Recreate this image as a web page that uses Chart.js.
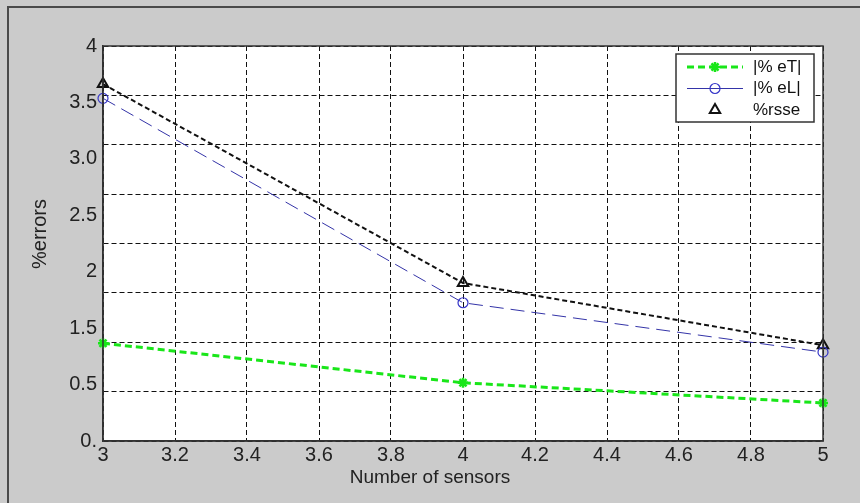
<!DOCTYPE html>
<html lang="en">
<head>
  <meta charset="UTF-8">
  <title>%errors vs Number of sensors</title>
  <script src="https://cdn.jsdelivr.net/npm/chart.js"></script>
  <style>
    body { margin: 0; background: #cbcbcb; }
    canvas { display: block; }
  </style>
</head>
<body>
  <canvas id="err-chart" width="860" height="503"></canvas>

  <script>
// Data
const sensors = [3, 4, 5];
const eT = [0.99, 0.59, 0.385];
const eL = [3.47, 1.40, 0.90];
const rsse = [3.615, 1.60, 0.97];

const seriesNames = ['|% eT|', '|% eL|', '%rsse'];
const xTitle = 'Number of sensors';
const yTitle = '%errors';

// Axis ticks
const xTicks = [3, 3.2, 3.4, 3.6, 3.8, 4, 4.2, 4.4, 4.6, 4.8, 5];
const yGrid = [0, 0.5, 1, 1.5, 2, 2.5, 3, 3.5, 4];
const yLabels = ['0.', '0.5', '1.5', '2', '2.5', '3.0', '3.5', '4'];

const font = "Arial, 'Liberation Sans', sans-serif";

function points(values) {
  return sensors.map((s, i) => ({ x: s, y: values[i] }));
}

// Gray figure background, outer frame, white axes box and axis titles
const framePlugin = {
  id: 'frame',
  beforeDraw(chart) {
    const ctx = chart.ctx;
    const a = chart.chartArea;
    ctx.save();
    ctx.fillStyle = '#cbcbcb';
    ctx.fillRect(0, 0, chart.width, chart.height);
    ctx.strokeStyle = '#4a4a4a';
    ctx.lineWidth = 2;
    ctx.beginPath();
    ctx.moveTo(chart.width, 7);
    ctx.lineTo(8, 7);
    ctx.lineTo(8, chart.height);
    ctx.stroke();
    ctx.fillStyle = '#ffffff';
    ctx.fillRect(a.left, a.top, a.right - a.left, a.bottom - a.top);
    ctx.restore();
  },
  afterDatasetsDraw(chart) {
    const ctx = chart.ctx;
    const a = chart.chartArea;
    ctx.save();
    ctx.strokeStyle = '#333';
    ctx.lineWidth = 1.5;
    ctx.strokeRect(a.left, a.top, a.right - a.left, a.bottom - a.top);
    ctx.restore();
  },
  afterDraw(chart) {
    const ctx = chart.ctx;
    ctx.save();
    ctx.fillStyle = '#222';
    ctx.font = '19px ' + font;
    ctx.textAlign = 'center';
    ctx.textBaseline = 'middle';
    ctx.fillText(xTitle, 430, 478);
    ctx.translate(40, 234);
    ctx.rotate(-Math.PI / 2);
    ctx.font = '20px ' + font;
    ctx.fillText(yTitle, 0, 0);
    ctx.restore();
  }
};

// Legend box in the upper right of the axes
const legendPlugin = {
  id: 'boxLegend',
  afterDraw(chart) {
    const ctx = chart.ctx;
    const box = { x: 676, y: 54, w: 138, h: 68 };
    ctx.save();
    ctx.fillStyle = '#fff';
    ctx.fillRect(box.x, box.y, box.w, box.h);
    ctx.strokeStyle = '#333';
    ctx.lineWidth = 1.5;
    ctx.strokeRect(box.x, box.y, box.w, box.h);

    chart.data.datasets.forEach((ds, i) => {
      const y = box.y + 13 + i * 21.5;
      if (ds.showLegendLine) {
        ctx.strokeStyle = ds.borderColor;
        ctx.lineWidth = ds.legendLineWidth;
        ctx.setLineDash(ds.legendDash);
        ctx.beginPath();
        ctx.moveTo(box.x + 11, y);
        ctx.lineTo(box.x + 67, y);
        ctx.stroke();
        ctx.setLineDash([]);
      }
      ctx.strokeStyle = ds.pointBorderColor;
      ctx.fillStyle = ds.pointBackgroundColor;
      ctx.lineWidth = ds.pointBorderWidth;
      Chart.helpers.drawPoint(ctx, {
        pointStyle: ds.pointStyle,
        radius: ds.pointRadius,
        borderWidth: ds.pointBorderWidth,
        rotation: 0
      }, box.x + 39, y);

      ctx.fillStyle = '#111';
      ctx.font = '17px ' + font;
      ctx.textBaseline = 'middle';
      ctx.textAlign = 'left';
      ctx.fillText(ds.label, box.x + 77, y);
    });
    ctx.restore();
  }
};

new Chart(document.getElementById('err-chart'), {
  type: 'line',
  data: {
    datasets: [{
      label: seriesNames[0],
      data: points(eT),
      borderColor: '#19e619',
      borderWidth: 3,
      borderDash: [7, 4],
      pointStyle: 'star',
      pointRadius: 5,
      pointBorderWidth: 2.5,
      pointBorderColor: '#19e619',
      pointBackgroundColor: '#19e619',
      showLegendLine: true,
      legendLineWidth: 3,
      legendDash: [7, 4]
    }, {
      label: seriesNames[1],
      data: points(eL),
      borderColor: '#3434a8',
      borderWidth: 1,
      borderDash: [14, 7],
      pointStyle: 'circle',
      pointRadius: 5,
      pointBorderWidth: 1.2,
      pointBorderColor: '#3434c8',
      pointBackgroundColor: 'rgba(0,0,0,0)',
      showLegendLine: true,
      legendLineWidth: 1,
      legendDash: []
    }, {
      label: seriesNames[2],
      data: points(rsse),
      borderColor: '#111',
      borderWidth: 2,
      borderDash: [5, 3],
      pointStyle: 'triangle',
      pointRadius: 6,
      pointBorderWidth: 2,
      pointBorderColor: '#111',
      pointBackgroundColor: 'rgba(0,0,0,0)',
      showLegendLine: false,
      legendLineWidth: 0,
      legendDash: []
    }]
  },
  options: {
    responsive: false,
    animation: false,
    clip: false,
    layout: { padding: { left: 8, right: 37, top: 46, bottom: 0 } },
    plugins: {
      legend: { display: false },
      tooltip: { enabled: false }
    },
    scales: {
      x: {
        type: 'linear',
        min: 3,
        max: 5,
        afterBuildTicks: axis => { axis.ticks = xTicks.map(v => ({ value: v })); },
        afterFit: scale => { scale.height = 62; },
        ticks: {
          autoSkip: false,
          maxRotation: 0,
          padding: 2,
          color: '#222',
          font: { family: font, size: 20 },
          callback: v => String(+v.toFixed(1))
        },
        grid: { color: '#111', lineWidth: 1, drawTicks: false },
        border: { display: true, color: '#333', width: 1.5, dash: [5, 3] }
      },
      y: {
        type: 'linear',
        min: 0,
        max: 4,
        afterBuildTicks: axis => {
          const grid = yGrid.map(v => ({ value: v, grid: true }));
          const labels = yLabels.map((t, i) => ({
            value: i * 4 / (yLabels.length - 1),
            text: t
          }));
          axis.ticks = grid.concat(labels);
        },
        afterFit: scale => { scale.width = 95; },
        ticks: {
          autoSkip: false,
          padding: 6,
          color: '#222',
          font: { family: font, size: 20 },
          callback: (v, i, ticks) => ticks[i].text || ''
        },
        grid: {
          color: ctx => (ctx.tick && ctx.tick.grid ? '#111' : 'rgba(0,0,0,0)'),
          lineWidth: 1,
          drawTicks: false
        },
        border: { display: true, color: '#333', width: 1.5, dash: [5, 3] }
      }
    }
  },
  plugins: [framePlugin, legendPlugin]
});
  </script>
</body>
</html>
